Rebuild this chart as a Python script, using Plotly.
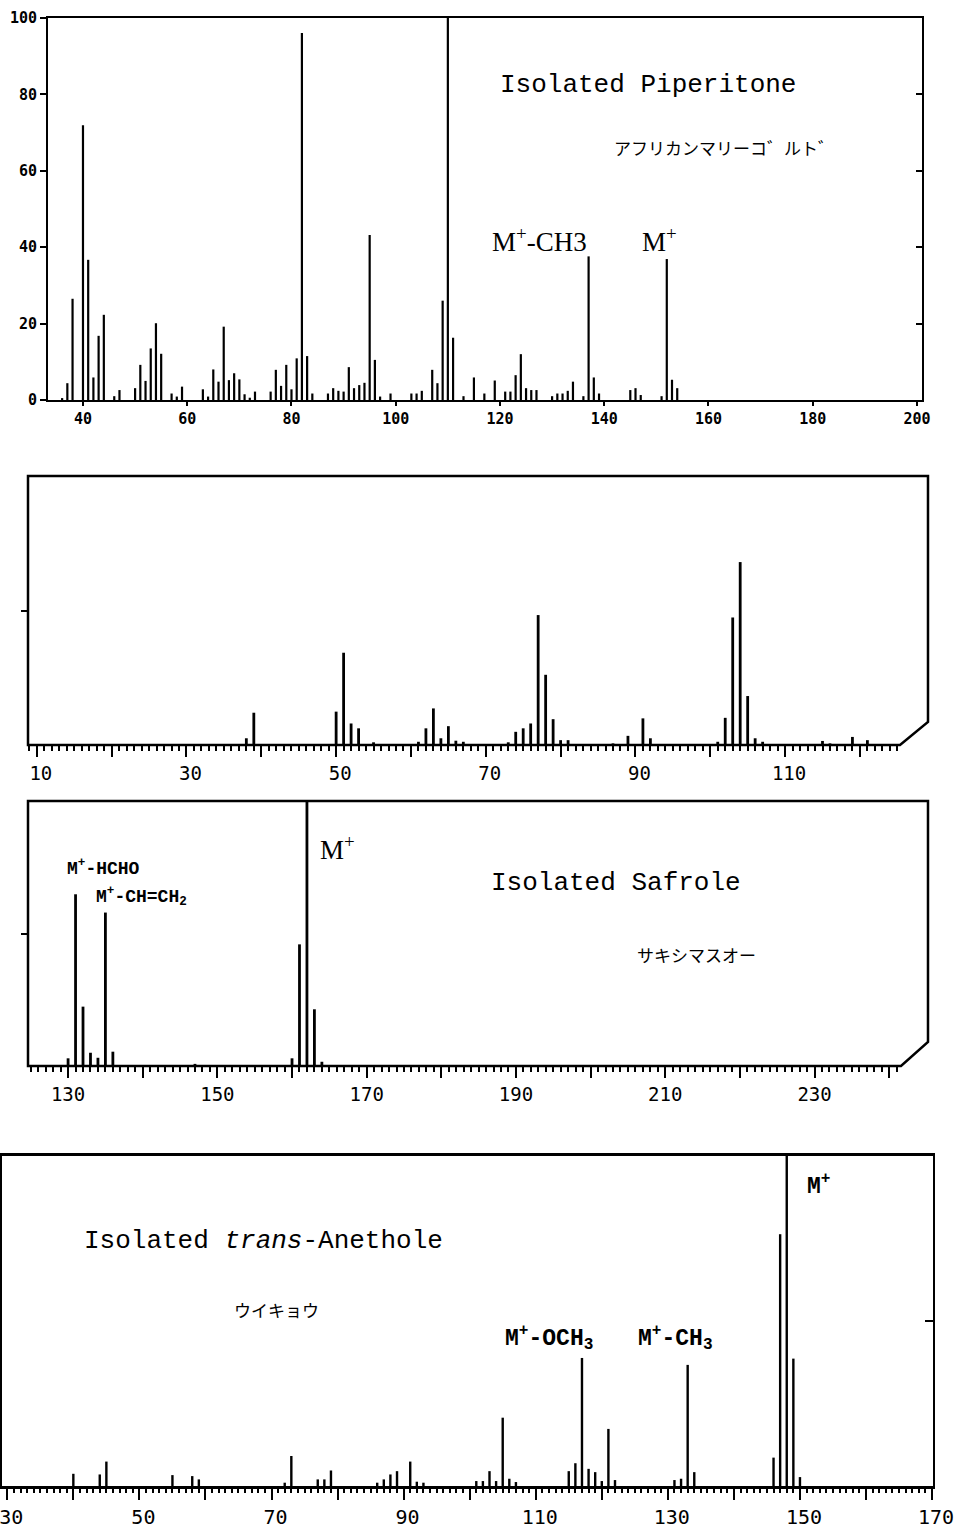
import plotly.graph_objects as go

# ---------------- data (m/z, relative intensity %) ----------------
pip_mz = [36, 37, 38, 40, 41, 42, 43, 44, 46, 47, 50, 51, 52, 53, 54, 55, 57, 58, 59,
          63, 64, 65, 66, 67, 68, 69, 70, 71, 72, 73, 76, 77, 78, 79, 80, 81, 82, 83, 84,
          87, 88, 89, 90, 91, 92, 93, 94, 95, 96, 97, 99, 103, 104, 105, 107, 108, 109,
          110, 111, 113, 115, 117, 119, 121, 122, 123, 124, 125, 126, 127, 130, 131, 132,
          133, 134, 136, 137, 138, 139, 145, 146, 147, 151, 152, 153, 154]
pip_int = [0.5, 4.4, 26.5, 71.9, 36.7, 5.9, 16.8, 22.3, 1.0, 2.6, 3.1, 9.2, 5.0, 13.5, 20.1, 12.1, 1.7, 0.9, 3.5,
           2.8, 0.9, 8.0, 4.8, 19.2, 5.2, 7.0, 5.4, 1.5, 0.6, 2.2, 2.2, 7.9, 3.7, 9.2, 2.8, 10.9, 96.1, 11.5, 1.7,
           1.7, 3.1, 2.4, 2.2, 8.6, 3.1, 3.9, 4.5, 43.2, 10.5, 0.9, 1.7, 1.7, 1.7, 2.4, 7.9, 4.4, 26.0,
           100.0, 16.3, 1.0, 5.9, 1.7, 5.1, 2.2, 2.2, 6.5, 12.0, 3.1, 2.6, 2.6, 1.0, 1.7, 1.7,
           2.4, 4.8, 1.0, 37.6, 5.9, 1.7, 2.6, 3.1, 1.3, 1.0, 36.9, 5.3, 3.1]

saf_mz = [38, 39, 50, 51, 52, 53, 55, 61, 62, 63, 64, 65, 66, 67, 73, 74, 75, 76, 77, 78, 79, 80, 81,
          87, 89, 91, 92, 101, 102, 103, 104, 105, 106, 107, 115, 116, 119, 121,
          130, 131, 132, 133, 134, 135, 136, 147, 160, 161, 162, 163, 164]
saf_int = [2.5, 12.0, 12.4, 34.3, 8.0, 6.2, 1.0, 1.2, 6.2, 13.6, 2.5, 7.0, 1.6, 1.2, 1.0, 4.9, 6.2, 8.0, 48.3, 26.1, 9.6, 1.8, 1.8,
           0.6, 3.4, 9.9, 2.5, 1.2, 10.1, 47.4, 68.0, 18.2, 2.5, 1.2, 1.5, 0.6, 3.0, 1.8,
           2.9, 64.8, 22.4, 5.0, 3.1, 57.9, 5.4, 0.8, 2.9, 45.9, 100.0, 21.4, 1.6]

ane_mz = [40, 44, 45, 55, 58, 59, 72, 73, 77, 78, 79, 86, 87, 88, 89, 91, 92, 93,
          101, 102, 103, 104, 105, 106, 107, 115, 116, 117, 118, 119, 120, 121, 122,
          131, 132, 133, 134, 146, 147, 148, 149, 150]
ane_int = [3.7, 3.5, 7.4, 3.3, 3.0, 2.0, 1.0, 9.1, 2.0, 2.0, 4.7, 1.0, 2.0, 3.5, 4.5, 7.4, 1.3, 1.0,
           1.5, 1.5, 4.5, 1.5, 20.7, 2.2, 1.2, 4.5, 6.9, 38.8, 5.2, 4.2, 1.5, 17.3, 1.8,
           1.8, 2.2, 36.7, 4.2, 8.6, 76.3, 100.0, 38.6, 2.7]

pip_xticks = [40, 60, 80, 100, 120, 140, 160, 180, 200]
pip_yticks = [0, 20, 40, 60, 80, 100]
saf_low_ticks = [10, 30, 50, 70, 90, 110]
saf_high_ticks = [130, 150, 170, 190, 210, 230]
ane_ticks = [30, 50, 70, 90, 110, 130, 150, 170]

# ---------------- layout helpers ----------------
W, H = 959, 1528


def dx(a, b):
    return [a / W, b / W]


def dy(top, bottom):
    return [1 - bottom / H, 1 - top / H]


def pp(x, y):
    return f"{x / W:.5f},{1 - y / H:.5f}"


def stems(mz, inten):
    xs, ys = [], []
    for m, v in zip(mz, inten):
        xs += [m, m, None]
        ys += [0, v, None]
    return xs, ys


MONO = "Liberation Mono, Courier New, monospace"
SERIF = "Liberation Serif, Times New Roman, serif"
CJK = "Noto Sans CJK JP"
TICKMONO = "DejaVu Sans Mono"

fig = go.Figure()

x, y = stems(pip_mz, pip_int)
fig.add_trace(go.Scatter(x=x, y=y, mode="lines", line=dict(color="black", width=2.2),
                         xaxis="x", yaxis="y", hoverinfo="skip", showlegend=False))

x, y = stems(saf_mz, saf_int)
fig.add_trace(go.Scatter(x=x, y=y, mode="lines", line=dict(color="black", width=2.8),
                         xaxis="x2", yaxis="y2", hoverinfo="skip", showlegend=False))
fig.add_trace(go.Scatter(x=x, y=y, mode="lines", line=dict(color="black", width=2.8),
                         xaxis="x3", yaxis="y3", hoverinfo="skip", showlegend=False))

x, y = stems(ane_mz, ane_int)
fig.add_trace(go.Scatter(x=x, y=y, mode="lines", line=dict(color="black", width=2.4),
                         xaxis="x4", yaxis="y4", hoverinfo="skip", showlegend=False))

# empty traces so that the overlay tick-only axes are drawn
for xa, ya in [("x", "y5"), ("x5", "y2"), ("x6", "y3"), ("x7", "y4")]:
    fig.add_trace(go.Scatter(x=[], y=[], xaxis=xa, yaxis=ya, showlegend=False, hoverinfo="skip"))

common = dict(showgrid=False, zeroline=False, linecolor="black", tickcolor="black",
              automargin=False)


def fine_ticks(over, anchor, dom, rng, vals, length):
    return dict(overlaying=over, anchor=anchor, side="bottom", domain=dom, range=rng,
                tickmode="array", tickvals=vals, ticks="outside", ticklen=length,
                tickwidth=1.5, showticklabels=False, showline=False, **common)


rng2, rng3, rng4 = [8.82, 129.1], [124.63, 245.2], [29.2, 170.14]
dom23, dom4 = dx(28, 928), dx(2, 933)

layout = dict(
    width=W, height=H, autosize=False,
    margin=dict(l=0, r=0, t=0, b=0, pad=0, autoexpand=False),
    paper_bgcolor="white", plot_bgcolor="white",
    showlegend=False,
    # panel 1
    xaxis=dict(domain=dx(48, 922), range=[33.29, 200.96], anchor="y",
               tickmode="array", tickvals=pip_xticks, ticks="outside", ticklen=4, tickwidth=1.5,
               showline=True, linewidth=2, mirror=True,
               tickfont=dict(family=TICKMONO, size=15, color="black", weight="bold"), **common),
    yaxis=dict(domain=dy(18, 400), range=[0, 100], anchor="x",
               tickmode="array", tickvals=pip_yticks, ticks="outside", ticklen=6, tickwidth=1.5,
               showline=True, linewidth=2, mirror=True,
               tickfont=dict(family=TICKMONO, size=15, color="black", weight="bold"), **common),
    yaxis5=dict(overlaying="y", side="right", anchor="x", range=[0, 100],
                tickmode="array", tickvals=pip_yticks, ticks="inside", ticklen=6, tickwidth=1.5,
                showticklabels=False, showline=False, **common),
    # panel 2
    xaxis2=dict(domain=dom23, range=rng2, anchor="y2",
                tickmode="array", tickvals=saf_low_ticks,
                ticks="outside", ticklen=11, tickwidth=2, ticklabelshift=4,
                minor=dict(tick0=0, dtick=10, ticks="outside", ticklen=11, tickwidth=2,
                           tickcolor="black"),
                showline=False,
                tickfont=dict(family=TICKMONO, size=19, color="black"), **common),
    xaxis5=fine_ticks("x2", "y2", dom23, rng2, list(range(9, 126)), 5),
    yaxis2=dict(domain=dy(476, 745), range=[0, 100], anchor="x2",
                tickmode="array", tickvals=[50], ticks="outside", ticklen=6, tickwidth=2,
                showticklabels=False, showline=False, **common),
    # panel 3
    xaxis3=dict(domain=dom23, range=rng3, anchor="y3",
                tickmode="array", tickvals=saf_high_ticks,
                ticks="outside", ticklen=11, tickwidth=2,
                minor=dict(tick0=0, dtick=10, ticks="outside", ticklen=11, tickwidth=2,
                           tickcolor="black"),
                showline=False,
                tickfont=dict(family=TICKMONO, size=19, color="black"), **common),
    xaxis6=fine_ticks("x3", "y3", dom23, rng3, list(range(125, 242)), 5),
    yaxis3=dict(domain=dy(801, 1066), range=[0, 100], anchor="x3",
                tickmode="array", tickvals=[50], ticks="outside", ticklen=6, tickwidth=2,
                showticklabels=False, showline=False, **common),
    # panel 4
    xaxis4=dict(domain=dom4, range=rng4, anchor="y4",
                tickmode="array", tickvals=ane_ticks,
                ticks="outside", ticklen=11, tickwidth=2, ticklabeloverflow="allow",
                ticklabelshift=4,
                minor=dict(tick0=0, dtick=10, ticks="outside", ticklen=11, tickwidth=2,
                           tickcolor="black"),
                showline=True, linewidth=2.5, mirror=True,
                tickfont=dict(family=TICKMONO, size=20, color="black"), **common),
    xaxis7=fine_ticks("x4", "y4", dom4, rng4, list(range(30, 171)), 6),
    yaxis4=dict(domain=dy(1156, 1486), range=[0, 100], anchor="x4", side="right",
                tickmode="array", tickvals=[50], ticks="inside", ticklen=8, tickwidth=2,
                showticklabels=False, showline=True, linewidth=2, mirror=True, **common),
)
fig.update_layout(**layout)

# cut-corner frames of the two safrole panels
for top, bottom, ybreak, xbreak in [(476, 745, 722, 900), (801, 1066, 1042, 901)]:
    path = (f"M {pp(28, bottom)} L {pp(28, top)} L {pp(928, top)} "
            f"L {pp(928, ybreak)} L {pp(xbreak, bottom)} Z")
    fig.add_shape(type="path", path=path, xref="paper", yref="paper",
                  line=dict(color="black", width=2.5), fillcolor="rgba(0,0,0,0)")


def note(text, x, y, ax, font):
    fig.add_annotation(text=text, x=x, y=y, xref=ax[0], yref=ax[1],
                       xanchor="left", yanchor="middle", showarrow=False, font=font)


f_title = dict(family=MONO, size=26, color="black")
f_jp = dict(family=CJK, size=17, color="black")
f_serif = dict(family=SERIF, size=27, color="black")
f_bold3 = dict(family=MONO, size=18, color="black")
f_bold4 = dict(family=MONO, size=23, color="black")

p1 = ("x", "y")
note("Isolated Piperitone", 119.6, 82.5, p1, f_title)
note("アフリカンマリーコ゛ルト゛", 141.5, 66, p1, f_jp)
note("M<sup>+</sup>-CH3", 118.1, 41.9, p1, f_serif)
note("M<sup>+</sup>", 146.9, 41.9, p1, f_serif)

p3 = ("x3", "y3")
note("<b>M<sup>+</sup>-HCHO</b>", 129.6, 74.8, p3, f_bold3)
note("<b>M<sup>+</sup>-CH=CH<sub>2</sub></b>", 133.5, 64.0, p3, f_bold3)
note("M<sup>+</sup>", 163.5, 82.3, p3, f_serif)
note("Isolated Safrole", 186.4, 69, p3, f_title)
note("サキシマスオー", 205.9, 41.9, p3, f_jp)

p4 = ("x4", "y4")
note("Isolated <i>trans</i>-Anethole", 41.3, 74.2, p4, f_title)
note("ウイキョウ", 64.0, 53.6, p4, f_jp)
note("<b>M<sup>+</sup>-OCH<sub>3</sub></b>", 105.0, 44.8, p4, f_bold4)
note("<b>M<sup>+</sup>-CH<sub>3</sub></b>", 125.2, 44.8, p4, f_bold4)
note("<b>M<sup>+</sup></b>", 150.7, 91.2, p4, f_bold4)

fig.write_html("out.html", config={"displayModeBar": False},
               post_script="document.body.style.margin='0px';"
                           "document.body.style.overflow='hidden';")
